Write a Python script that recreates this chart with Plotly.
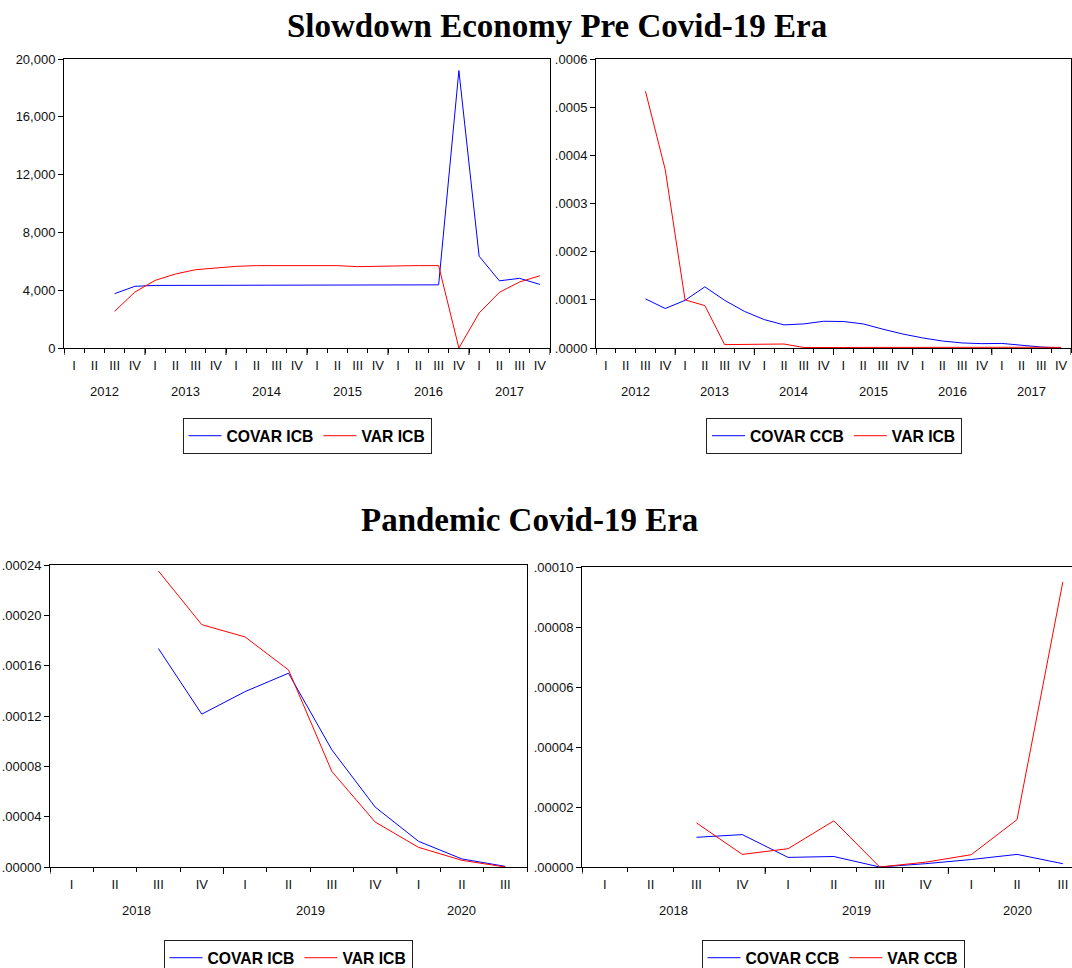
import plotly.graph_objects as go

# ---------------- data ----------------
quarters_pre = ["I", "II", "III", "IV"] * 6
years_pre = ["2012", "2013", "2014", "2015", "2016", "2017"]

pre_covar_icb = [None, None, 3760, 4270, 4330, 4330, 4330, 4330, 4330, 4330, 4330, 4330,
                 4330, 4330, 4330, 4340, 4350, 4350, 4370, 19200, 6350, 4650, 4820, 4400]
pre_var_icb = [None, None, 2540, 3870, 4680, 5120, 5420, 5560, 5650, 5700, 5700, 5700,
               5700, 5700, 5630, 5630, 5680, 5700, 5700, 0, 2420, 3850, 4570, 5000]

pre_covar_ccb = [None, None, 0.000102, 0.000082, 0.000099, 0.000127, 0.000099, 0.000076,
                 0.000059, 0.000048, 0.000050, 0.0000555, 0.000055, 0.000050, 0.000039,
                 0.000029, 0.000021, 0.0000145, 0.0000105, 0.000009, 0.0000095, 0.0000055,
                 0.000002, 0.0]
pre_var_icb2 = [None, None, 0.000533, 0.000370, 0.000100, 0.000088, 0.000007, 0.0000075,
                0.000008, 0.0000083, 0.000001, 0.0000005, 0.000001, 0.0000012, 0.0000014,
                0.0000016, 0.0000018, 0.000002, 0.000002, 0.000002, 0.000002, 0.0000018,
                0.0000015, 0.0000012]

quarters_pan = ["I", "II", "III", "IV", "I", "II", "III", "IV", "I", "II", "III"]
years_pan = ["2018", "2019", "2020"]

pan_covar_icb = [None, None, 0.0001736, 0.0001215, 0.0001394, 0.000154, 0.0000931,
                 0.0000476, 0.0000204, 0.0000064, 0.0000005]
pan_var_icb = [None, None, 0.0002352, 0.0001926, 0.0001828, 0.0001566, 0.0000759,
               0.0000357, 0.0000156, 0.0000053, 0.0]

pan_covar_ccb = [None, None, 0.0000099, 0.0000108, 0.0000032, 0.0000035, 0.0,
                 0.0000011, 0.0000025, 0.0000042, 0.0000011]
pan_var_ccb = [None, None, 0.0000147, 0.0000042, 0.0000061, 0.0000154, 0.0,
               0.0000016, 0.0000041, 0.0000158, 0.000095]

# y tick labels
yt_tl = [0, 4000, 8000, 12000, 16000, 20000]
yl_tl = ["0", "4,000", "8,000", "12,000", "16,000", "20,000"]
yt_tr = [0, 0.0001, 0.0002, 0.0003, 0.0004, 0.0005, 0.0006]
yl_tr = [".0000", ".0001", ".0002", ".0003", ".0004", ".0005", ".0006"]
yt_bl = [0, 0.00004, 0.00008, 0.00012, 0.00016, 0.00020, 0.00024]
yl_bl = [".00000", ".00004", ".00008", ".00012", ".00016", ".00020", ".00024"]
yt_br = [0, 0.00002, 0.00004, 0.00006, 0.00008, 0.00010]
yl_br = [".00000", ".00002", ".00004", ".00006", ".00008", ".00010"]

titles = ["Slowdown Economy Pre Covid-19 Era", "Pandemic Covid-19 Era"]

BLUE = "#0000FF"
RED = "#FF0000"
W, H = 1072, 968

fig = go.Figure()

panels = [
    dict(ax="x", ay="y", lg="legend", n=24, s=(pre_covar_icb, pre_var_icb), nm=("COVAR ICB", "VAR ICB"),
         xd=(64, 550), yd=(59, 348), xr=None, yr=(0, 20000), yt=yt_tl, yl=yl_tl,
         q=quarters_pre, yrs=years_pre, lgx=307, lgy=418),
    dict(ax="x2", ay="y2", lg="legend2", n=24, s=(pre_covar_ccb, pre_var_icb2), nm=("COVAR CCB", "VAR ICB"),
         xd=(596, 1071), yd=(59, 348), xr=None, yr=(0, 0.0006), yt=yt_tr, yl=yl_tr,
         q=quarters_pre, yrs=years_pre, lgx=834, lgy=418),
    dict(ax="x3", ay="y3", lg="legend3", n=11, s=(pan_covar_icb, pan_var_icb), nm=("COVAR ICB", "VAR ICB"),
         xd=(50, 527), yd=(565, 867), xr=None, yr=(0, 0.00024), yt=yt_bl, yl=yl_bl,
         q=quarters_pan, yrs=years_pan, lgx=288, lgy=940),
    dict(ax="x4", ay="y4", lg="legend4", n=11, s=(pan_covar_ccb, pan_var_ccb), nm=("COVAR CCB", "VAR CCB"),
         xd=(582, 1072), yd=(567, 867), xr=(-0.5, 10.2), yr=(0, 0.0001), yt=yt_br, yl=yl_br,
         q=quarters_pan, yrs=years_pan, lgx=833, lgy=940),
]

tickfont = dict(family="Liberation Sans, Arial, sans-serif", size=13, color="#111")
shapes = []
annotations = []

for i, p in enumerate(panels):
    n = p["n"]
    xs = list(range(n))
    for s, nm, col in zip(p["s"], p["nm"], (BLUE, RED)):
        fig.add_trace(go.Scatter(x=xs, y=s, mode="lines", name=nm,
                                 line=dict(color=col, width=1),
                                 xaxis=p["ax"], yaxis=p["ay"], legend=p["lg"],
                                 connectgaps=False, hoverinfo="skip"))
    suffix = "" if i == 0 else str(i + 1)
    xr = list(p["xr"]) if p["xr"] else [-0.5, n - 0.5]
    boundaries = [k - 0.5 for k in range(n + 1)]
    fig.update_layout(**{
        "xaxis" + suffix: dict(
            domain=[p["xd"][0] / W, p["xd"][1] / W], anchor=p["ay"], range=xr,
            tickmode="array", tickvals=xs, ticktext=p["q"], ticks="",
            showline=True, linecolor="black", linewidth=1, mirror=True,
            showgrid=False, zeroline=False, tickfont=tickfont, ticklabelstandoff=5,
            minor=dict(tickmode="array", tickvals=boundaries, ticks="outside",
                       ticklen=4, tickcolor="black", tickwidth=1, showgrid=False),
            fixedrange=True, automargin=False,
        ),
        "yaxis" + suffix: dict(
            domain=[1 - p["yd"][1] / H, 1 - p["yd"][0] / H], anchor=p["ax"],
            range=list(p["yr"]), tickmode="array", tickvals=p["yt"], ticktext=p["yl"],
            ticks="outside", ticklen=5, tickcolor="black", tickwidth=1,
            showline=True, linecolor="black", linewidth=1, mirror=True,
            showgrid=False, zeroline=False, tickfont=tickfont, fixedrange=True,
            automargin=False,
        ),
        p["lg"]: dict(
            orientation="h", x=p["lgx"] / W, y=1 - p["lgy"] / H, xanchor="center", yanchor="top",
            bordercolor="#222", borderwidth=1, bgcolor="white", itemwidth=33,
            font=dict(family="Liberation Sans, Arial, sans-serif", size=15.7, color="black", weight="bold"),
        ),
    })
    ybot = 1 - p["yd"][1] / H
    # year boundary ticks (longer)
    for k in range(0, n + 1, 4):
        shapes.append(dict(type="line", xref=p["ax"], yref="paper", x0=k - 0.5, x1=k - 0.5,
                           y0=ybot, y1=ybot - 7 / H, line=dict(color="black", width=1)))
    # year labels
    for j, yr in enumerate(p["yrs"]):
        start = 4 * j
        end = min(4 * j + 3, n - 1)
        annotations.append(dict(text=yr, x=(start + end) / 2, xref=p["ax"], yref="paper",
                                y=ybot - 43 / H, yanchor="middle", xanchor="center",
                                showarrow=False, font=tickfont))

titlefont = dict(family="Liberation Serif, Times New Roman, serif", size=33, color="black", weight="bold")
annotations.append(dict(text=titles[0], x=557 / W, y=1 - 26 / H, xref="paper", yref="paper",
                        xanchor="center", yanchor="middle", showarrow=False, font=titlefont))
annotations.append(dict(text=titles[1], x=529 / W, y=1 - 520 / H, xref="paper", yref="paper",
                        xanchor="center", yanchor="middle", showarrow=False, font=titlefont))

fig.update_layout(width=W, height=H, autosize=False,
                  margin=dict(l=0, r=0, t=0, b=0, pad=0, autoexpand=False),
                  paper_bgcolor="white", plot_bgcolor="white", showlegend=True,
                  shapes=shapes, annotations=annotations)

fig.write_html("out.html", include_plotlyjs=True, config={"displayModeBar": False},
               post_script="document.body.style.margin='0';")
